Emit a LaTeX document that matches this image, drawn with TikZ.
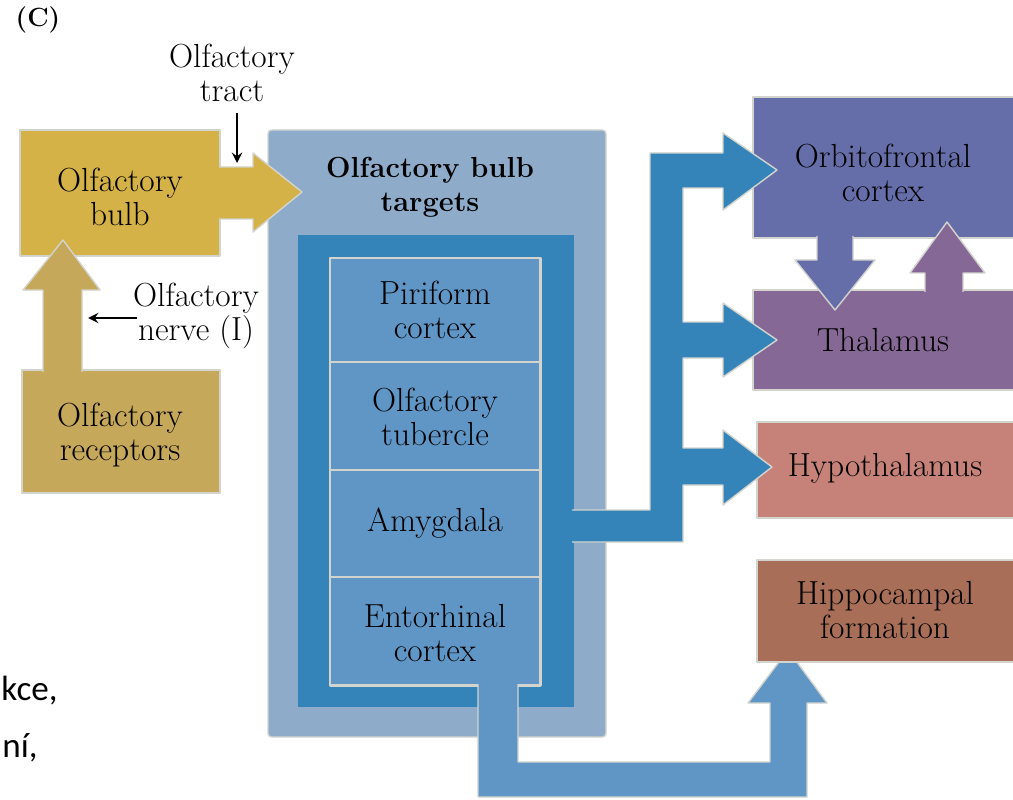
\documentclass[tikz,border=0pt]{standalone}
\usepackage{fontspec}
\newfontfamily\calfont{Carlito}
\definecolor{bulbc}{RGB}{212,178,72}
\definecolor{recc}{RGB}{198,168,90}
\definecolor{tgtout}{RGB}{142,172,202}
\definecolor{tgtframe}{RGB}{52,132,185}
\definecolor{tgtcell}{RGB}{96,150,198}
\definecolor{orbc}{RGB}{102,110,170}
\definecolor{thalc}{RGB}{134,104,150}
\definecolor{hypoc}{RGB}{198,130,120}
\definecolor{hippc}{RGB}{168,110,88}
\definecolor{edgec}{RGB}{210,212,205}
\begin{document}
\begin{tikzpicture}[x=0.02cm, y=-0.02cm, >=stealth, line join=round]
	\tikzset{lbl/.style={align=center, inner sep=0pt, font=\fontsize{19}{19.8}\selectfont},
		rim/.style={draw=edgec, line width=0.8pt}}
	\useasboundingbox (0,0) rectangle (1013,800);
	% left column
	\draw[rim, fill=bulbc] (20,130) rectangle (220,256);
	\draw[rim, fill=recc] (22,370) rectangle (220,493);
	\draw[rim, fill=recc] (43,372)--(43,290)--(23,290)--(63,240)--(100,290)--(82,290)--(82,372);
	% targets
	\draw[rim, fill=tgtout, rounded corners=2pt] (268,130) rectangle (606,737);
	\fill[tgtframe] (298,235) rectangle (574,707);
	\foreach \a/\b in {258/362,362/470,470/577,577/685}
		\draw[draw=edgec, line width=1.7pt, fill=tgtcell] (330,\a) rectangle (540,\b);
	\draw[rim, fill=bulbc] (219,167)--(253,167)--(253,153)--(302,192)--(253,232)--(253,219)--(219,219);
	\draw[rim, fill=tgtcell] (518,684)--(518,762)--(770,762)--(770,703)--(748,703)--(788,650)--(827,703)--(807,703)--(807,797)--(478,797)--(478,684);
	% right column
	\draw[rim, fill=orbc] (753,97) rectangle (1016,238);
	\draw[rim, fill=thalc] (753,290) rectangle (1016,390);
	\draw[rim, fill=hypoc] (757,422) rectangle (1016,518);
	\draw[rim, fill=hippc] (757,560) rectangle (1016,662);
	\draw[rim, fill=tgtframe] (572,510)--(650,510)--(650,153)--(723,153)--(723,133)--(777,170)--(723,210)--(723,188)--(683,188)
		--(683,322)--(723,322)--(723,303)--(777,340)--(723,377)--(723,358)--(683,358)
		--(683,448)--(723,448)--(723,430)--(772,467)--(723,505)--(723,485)--(683,485)--(683,542)--(572,542);
	\draw[rim, fill=orbc] (817,236)--(817,260)--(795,260)--(835,310)--(875,260)--(853,260)--(853,236);
	\draw[rim, fill=thalc] (925,292)--(925,273)--(910,273)--(947,222)--(985,273)--(963,273)--(963,292);
	% labels
	\node[font=\fontsize{15}{15}\selectfont\bfseries] (panel) at (38,20) {(C)};
	\node[lbl] (bulb) at (120,197) {Olfactory\\bulb};
	\node[lbl] (rec) at (120,435) {Olfactory\\receptors};
	\node[lbl] (tract) at (232,73) {Olfactory\\tract};
	\node[lbl] (nerve) at (196,316) {Olfactory\\nerve (I)};
	\node[lbl, font=\fontsize{16.5}{19.5}\selectfont\bfseries] (tgt) at (430,187) {Olfactory bulb\\targets};
	\node[lbl] (pir) at (435,310) {Piriform\\cortex};
	\node[lbl] (tub) at (435,417) {Olfactory\\tubercle};
	\node[lbl] (amy) at (435,523) {Amygdala};
	\node[lbl] (ent) at (435,633) {Entorhinal\\cortex};
	\node[lbl] (orb) at (883,173) {Orbitofrontal\\cortex};
	\node[lbl] (thal) at (883,340) {Thalamus};
	\node[lbl] (hypo) at (885,468) {Hypothalamus};
	\node[lbl] (hipp) at (885,610) {Hippocampal\\formation};
	% small arrows
	\coordinate (tractTail) at (237,113);
	\coordinate (tractTip) at (237,163);
	\coordinate (nerveTail) at (137,318);
	\coordinate (nerveTip) at (88,318);
	\draw[->, line width=1.6pt] (tractTail)--(tractTip);
	\draw[->, line width=1.6pt] (nerveTail)--(nerveTip);
	% cut-off text
	\node[anchor=base west, inner sep=0pt, font=\calfont\fontsize{20}{24}\selectfont] (kce) at (1,700) {kce,};
	\node[anchor=base west, inner sep=0pt, font=\calfont\fontsize{20}{24}\selectfont] (ni) at (2,757) {ní,};
\end{tikzpicture}
\end{document}
